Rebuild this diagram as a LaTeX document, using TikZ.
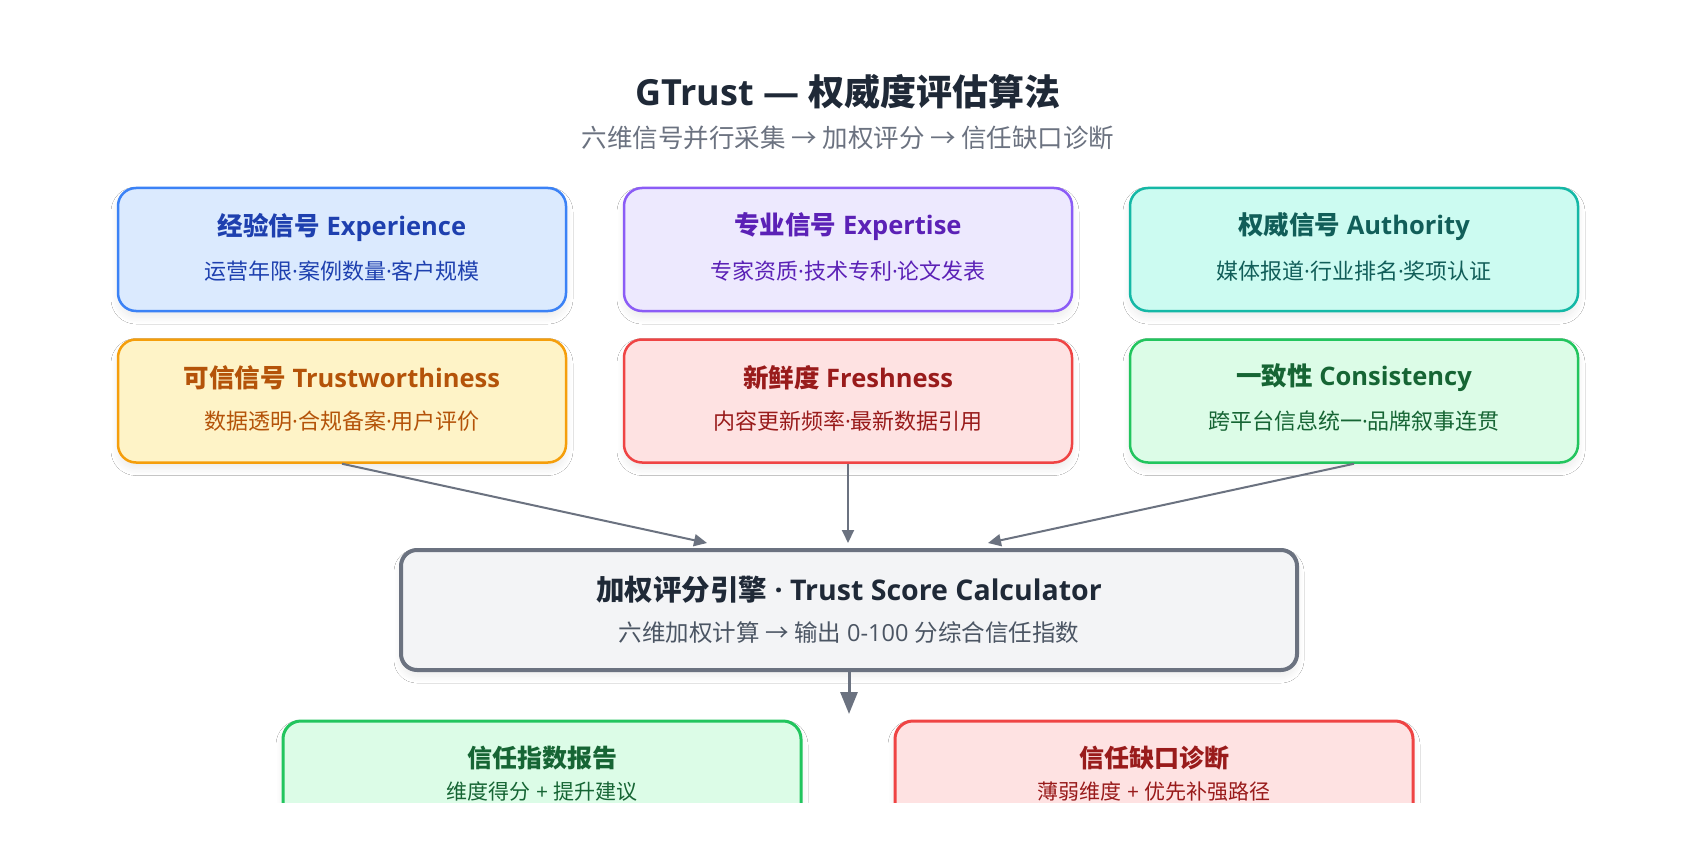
\documentclass[tikz,border=0pt]{standalone}
\usepackage{fontspec}
\setmainfont{Open Sans}
\newfontfamily\zh{Noto Sans CJK SC}
\newcommand{\zhtxt}[1]{{\zh #1}}
\usetikzlibrary{arrows.meta,shadows.blur}
\definecolor{titlecol}{HTML}{1F2937}
\definecolor{subcol}{HTML}{6B7280}
\definecolor{arrowgray}{HTML}{6B7280}
\definecolor{bluebg}{HTML}{DBEAFE}\definecolor{bluebd}{HTML}{3B82F6}\definecolor{bluetx}{HTML}{1E40AF}
\definecolor{violetbg}{HTML}{EDE9FE}\definecolor{violetbd}{HTML}{8B5CF6}\definecolor{violettx}{HTML}{5B21B6}
\definecolor{tealbg}{HTML}{CCFBF1}\definecolor{tealbd}{HTML}{14B8A6}\definecolor{tealtx}{HTML}{115E59}
\definecolor{amberbg}{HTML}{FEF3C7}\definecolor{amberbd}{HTML}{F59E0B}\definecolor{ambertx}{HTML}{B45309}
\definecolor{redbg}{HTML}{FEE2E2}\definecolor{redbd}{HTML}{EF4444}\definecolor{redtx}{HTML}{991B1B}
\definecolor{greenbg}{HTML}{DCFCE7}\definecolor{greenbd}{HTML}{22C55E}\definecolor{greentx}{HTML}{166534}
\definecolor{graybg}{HTML}{F3F4F6}\definecolor{graybd}{HTML}{6B7280}\definecolor{graytx}{HTML}{4B5563}
\newcommand{\md}{\textperiodcentered}
\tikzset{
  softshadow/.style={blur shadow={shadow xshift=0pt, shadow yshift=-6pt, shadow blur radius=7pt, shadow blur steps=12, shadow opacity=8}},
  card/.style={rounded corners=18pt, line width=2.5pt, minimum width=448pt, minimum height=123pt, inner sep=0pt, softshadow},
  calcbox/.style={rounded corners=16pt, line width=4pt, minimum width=896pt, minimum height=120pt, inner sep=0pt, draw=graybd, fill=graybg, softshadow},
  outbox/.style={rounded corners=18pt, line width=3pt, minimum width=518pt, minimum height=120pt, inner sep=0pt, softshadow},
  ttl/.style={font=\fontsize{25.5}{30}\selectfont\bfseries, inner sep=0pt},
  sub/.style={font=\fontsize{22}{26}\selectfont, inner sep=0pt},
  arr/.style={draw=arrowgray, line width=2pt, -{Triangle[length=13pt,width=12pt]}},
  bigarr/.style={draw=arrowgray, line width=3pt, -{Triangle[length=22pt,width=17pt]}},
}
\begin{document}
\begin{tikzpicture}[x=1pt,y=-1pt]
\useasboundingbox (0,0) rectangle (1696,850);
\fill[white] (0,0) rectangle (1696,850);

\node[font=\fontsize{36}{42}\selectfont\bfseries, text=titlecol, inner sep=0pt] (title) at (848,92) {GTrust — \zhtxt{权威度评估算法}};
\node[font=\fontsize{25.5}{30}\selectfont, text=subcol, inner sep=0pt] (subtitle) at (848,138) {\zhtxt{六维信号并行采集 → 加权评分 → 信任缺口诊断}};

% row 1
\node[card, draw=bluebd, fill=bluebg] (exp) at (342,249.5) {};
\node[ttl, text=bluetx] (expT) at (342,227) {\zhtxt{经验信号} Experience};
\node[sub, text=bluetx] (expS) at (342,271) {\zhtxt{运营年限}\md\zhtxt{案例数量}\md\zhtxt{客户规模}};

\node[card, draw=violetbd, fill=violetbg] (expt) at (848,249.5) {};
\node[ttl, text=violettx] (exptT) at (848,227) {\zhtxt{专业信号} Expertise};
\node[sub, text=violettx] (exptS) at (848,271) {\zhtxt{专家资质}\md\zhtxt{技术专利}\md\zhtxt{论文发表}};

\node[card, draw=tealbd, fill=tealbg] (auth) at (1354,249.5) {};
\node[ttl, text=tealtx] (authT) at (1354,227) {\zhtxt{权威信号} Authority};
\node[sub, text=tealtx] (authS) at (1354,271) {\zhtxt{媒体报道}\md\zhtxt{行业排名}\md\zhtxt{奖项认证}};

% row 2
\node[card, draw=amberbd, fill=amberbg] (trust) at (342,401) {};
\node[ttl, text=ambertx] (trustT) at (342,378) {\zhtxt{可信信号} Trustworthiness};
\node[sub, text=ambertx] (trustS) at (342,421) {\zhtxt{数据透明}\md\zhtxt{合规备案}\md\zhtxt{用户评价}};

\node[card, draw=redbd, fill=redbg] (fresh) at (848,401) {};
\node[ttl, text=redtx] (freshT) at (848,378) {\zhtxt{新鲜度} Freshness};
\node[sub, text=redtx] (freshS) at (848,421) {\zhtxt{内容更新频率}\md\zhtxt{最新数据引用}};

\node[card, draw=greenbd, fill=greenbg] (cons) at (1354,401) {};
\node[ttl, text=greentx] (consT) at (1354,378) {\zhtxt{一致性} Consistency};
\node[sub, text=greentx] (consS) at (1354,421) {\zhtxt{跨平台信息统一}\md\zhtxt{品牌叙事连贯}};

% calculator
\node[calcbox] (calc) at (849,610) {};
\node[font=\fontsize{28.5}{34}\selectfont\bfseries, text=titlecol, inner sep=0pt] (calcT) at (849,590) {\zhtxt{加权评分引擎} · Trust Score Calculator};
\node[font=\fontsize{23.5}{28}\selectfont, text=graytx, inner sep=0pt] (calcS) at (849,633) {\zhtxt{六维加权计算 → 输出} 0-100 \zhtxt{分综合信任指数}};

\coordinate (tipL) at (707,543);
\coordinate (tipM) at (848,543);
\coordinate (tipR) at (988,543);
\coordinate (tipB) at (849,714);
\draw[arr] (trust.south) -- (tipL);
\draw[arr] (fresh.south) -- (tipM);
\draw[arr] (cons.south) -- (tipR);
\draw[bigarr] (calc.south) -- (tipB);

% outputs (clipped)
\begin{scope}
\clip (0,0) rectangle (1696,802);
\node[outbox, draw=greenbd, fill=greenbg] (report) at (542,781) {};
\node[font=\fontsize{25}{30}\selectfont\bfseries, text=greentx, inner sep=0pt] (reportT) at (542,758) {\zhtxt{信任指数报告}};
\node[font=\fontsize{21}{25}\selectfont, text=greentx, inner sep=0pt] (reportS) at (542,792) {\zhtxt{维度得分} + \zhtxt{提升建议}};

\node[outbox, draw=redbd, fill=redbg] (gap) at (1154,781) {};
\node[font=\fontsize{25}{30}\selectfont\bfseries, text=redtx, inner sep=0pt] (gapT) at (1154,758) {\zhtxt{信任缺口诊断}};
\node[font=\fontsize{21}{25}\selectfont, text=redtx, inner sep=0pt] (gapS) at (1154,792) {\zhtxt{薄弱维度} + \zhtxt{优先补强路径}};
\end{scope}
\end{tikzpicture}
\end{document}
